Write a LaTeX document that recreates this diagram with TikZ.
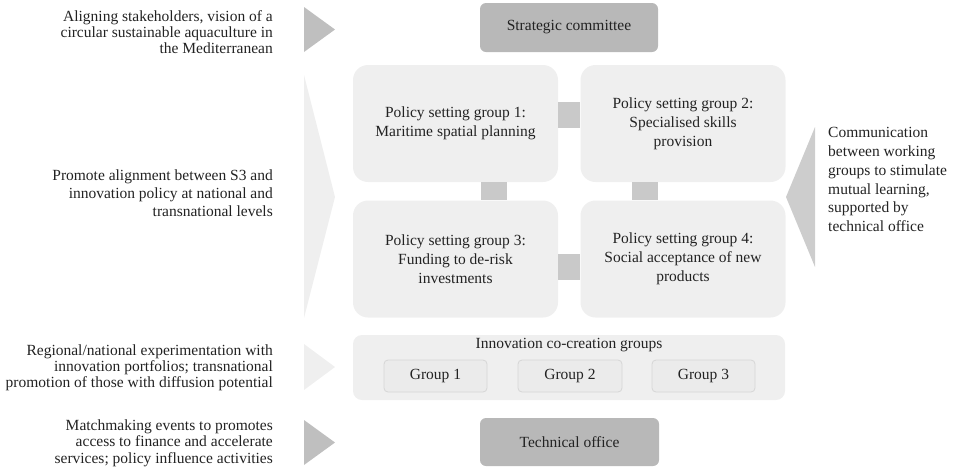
\documentclass[tikz,border=0pt]{standalone}
\usepackage{fontspec}
\setmainfont{Liberation Serif}
\definecolor{darkbox}{HTML}{B8B8B8}
\definecolor{lightbox}{HTML}{EFEFEF}
\definecolor{linkgray}{HTML}{C9C9C9}
\definecolor{arrowdark}{HTML}{BFBFBF}
\definecolor{arrowlight}{HTML}{EFEFEF}
\definecolor{arrowmid}{HTML}{CDCDCD}
\definecolor{groupfill}{HTML}{EBEBEB}
\definecolor{groupline}{HTML}{D6D6D6}
\definecolor{txt}{HTML}{222222}
\tikzset{
  base/.style={text=txt, inner sep=0pt, align=center},
  darkstep/.style={base, fill=darkbox, rounded corners=6pt, minimum width=178pt, minimum height=49pt, font=\fontsize{15.5}{19}\selectfont},
  policybox/.style={base, fill=lightbox, rounded corners=15pt, minimum width=205pt, minimum height=117pt, font=\fontsize{15.5}{19}\selectfont},
  innobox/.style={base, fill=lightbox, rounded corners=9pt, minimum width=432pt, minimum height=65pt},
  groupbox/.style={base, fill=groupfill, draw=groupline, line width=0.8pt, rounded corners=4pt, minimum height=32pt, font=\fontsize{15.5}{19}\selectfont},
  link/.style={draw=linkgray, line width=26pt},
  lefttext/.style={text=txt, inner sep=0pt, align=right, anchor=east},
  righttext/.style={text=txt, inner sep=0pt, align=left, anchor=west, font=\fontsize{15.5}{18.9}\selectfont},
}
\begin{document}
\begin{tikzpicture}[x=1pt,y=1pt]
\useasboundingbox (0,0) rectangle (953,-467);

% left-side arrows
\fill[arrowdark] (304,-7) -- (335,-29.5) -- (304,-52) -- cycle;
\fill[arrowlight] (304,-75) -- (335,-197) -- (304,-318) -- cycle;
\fill[arrowlight] (304,-344) -- (335,-367) -- (304,-390) -- cycle;
\fill[arrowdark] (304,-420) -- (335,-442.5) -- (304,-465) -- cycle;
% right-side arrow
\fill[arrowmid] (815,-127) -- (786,-197) -- (815,-267) -- cycle;

\node[policybox] (p1) at (455.5,-123.5) {Policy setting group 1:\\Maritime spatial planning};
\node[policybox] (p2) at (683,-123.5) {Policy setting group 2:\\Specialised skills\\provision};
\node[policybox] (p3) at (455.5,-259) {Policy setting group 3:\\Funding to de-risk\\investments};
\node[policybox] (p4) at (683,-259) {Policy setting group 4:\\Social acceptance of new\\products};
\draw[link] ([yshift=8.5pt]p1.east) -- ([yshift=8.5pt]p2.west);
\draw[link] ([yshift=-7.5pt]p3.east) -- ([yshift=-7.5pt]p4.west);
\draw[link] ([xshift=38pt]p1.south) -- ([xshift=38pt]p3.north);
\draw[link] ([xshift=-38pt]p2.south) -- ([xshift=-38pt]p4.north);

\node[darkstep] (sc) at (569,-27.5) {Strategic committee};

\node[innobox] (inno) at (569,-367.5) {};
\node[base, font=\fontsize{15.5}{19}\selectfont] (innotitle) at (569,-345) {Innovation co-creation groups};
\node[groupbox, minimum width=103pt] (g1) at (435.5,-376) {Group 1};
\node[groupbox, minimum width=104pt] (g2) at (570,-376) {Group 2};
\node[groupbox, minimum width=103pt] (g3) at (703.5,-376) {Group 3};

\node[darkstep, minimum width=179pt, minimum height=48pt] (tech) at (569.5,-442) {Technical office};

% left texts
\node[lefttext, font=\fontsize{15.5}{16}\selectfont] (t1) at (273,-32) {Aligning stakeholders, vision of a\\circular sustainable aquaculture in\\the Mediterranean};
\node[lefttext, font=\fontsize{15.5}{18}\selectfont] (t2) at (273,-193) {Promote alignment between S3 and\\innovation policy at national and\\transnational levels};
\node[lefttext, font=\fontsize{15.5}{16}\selectfont] (t3) at (273,-368) {Regional/national experimentation with\\innovation portfolios; transnational\\promotion of those with diffusion potential};
\node[lefttext, font=\fontsize{15.5}{16.5}\selectfont] (t4) at (273,-443) {Matchmaking events to promotes\\access to finance and accelerate\\services; policy influence activities};

% right text
\node[righttext] (t5) at (828,-179.5) {Communication\\between working\\groups to stimulate\\mutual learning,\\supported by\\technical office};
\end{tikzpicture}
\end{document}
